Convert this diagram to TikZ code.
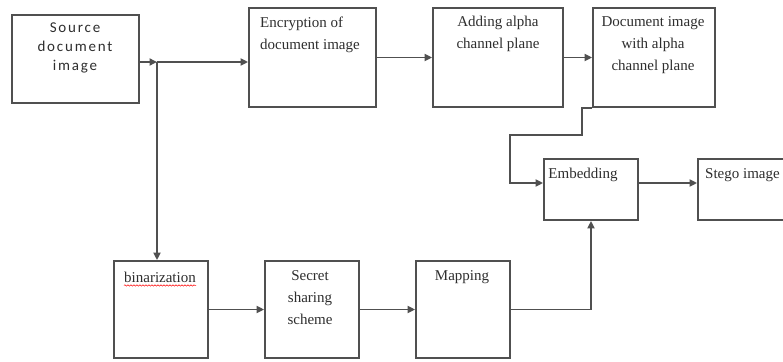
\documentclass[tikz,border=0pt]{standalone}
\usepackage{fontspec}
\setmainfont{Liberation Serif}
\newfontfamily\srcfont[LetterSpace=12]{Carlito}
\usetikzlibrary{arrows.meta,decorations.pathmorphing}
\definecolor{linegray}{HTML}{505050}
\definecolor{txtgray}{HTML}{2E2E2E}
\tikzset{
  box/.style={draw=linegray, line width=1.8pt, rectangle, inner sep=0pt},
  lbl/.style={text=txtgray, inner sep=0pt, font=\fontsize{15}{22}\selectfont},
  arr/.style={draw=linegray, line width=1.8pt, -{Triangle[length=7.5pt,width=7pt]}},
  ln/.style={draw=linegray, line width=1.8pt}
}
\begin{document}
\begin{tikzpicture}[x=1pt,y=-1pt]
\useasboundingbox (0,0) rectangle (783,361);
\fill[white] (0,0) rectangle (783,361);
% boxes
\node[box, minimum width=127, minimum height=88] (src) at (75.5,59) {};
\node[box, minimum width=127, minimum height=99] (enc) at (312.5,57.5) {};
\node[box, minimum width=130, minimum height=99] (add) at (498,57.5) {};
\node[box, minimum width=122, minimum height=99] (doc) at (654,57.5) {};
\node[box, minimum width=94, minimum height=61] (emb) at (591,189.5) {};
\node[box, minimum width=102, minimum height=61] (stego) at (749,189.5) {};
\node[box, minimum width=94, minimum height=97] (bin) at (161,309.5) {};
\node[box, minimum width=94, minimum height=97] (sec) at (312,309.5) {};
\node[box, minimum width=94, minimum height=97] (map) at (463,309.5) {};
% texts
\node[lbl, align=center, font=\srcfont\fontsize{15}{19}\selectfont] (srct) at (75,48) {Source\\document\\image};
\node[lbl, align=left, anchor=west] (enct) at (260,35) {Encryption of\\document image};
\node[lbl, align=center] (addt) at (498,34) {Adding alpha\\channel plane};
\node[lbl, align=center] (doct) at (653,45) {Document image\\with alpha\\channel plane};
\node[lbl] (embt) at (583,175) {Embedding};
\node[lbl, anchor=west] (stegot) at (705,175) {Stego image};
\node[lbl] (bint) at (160,277) {binarization};
\node[lbl, align=center] (sect) at (310,298) {Secret\\sharing\\scheme};
\node[lbl] (mapt) at (462,277) {Mapping};
\draw[red, line width=0.5pt, decorate, decoration={snake, amplitude=0.7pt, segment length=3pt}]
  ([yshift=-3pt]bint.south west) -- ([yshift=-3pt]bint.south east);
% connectors
\coordinate (J) at (157,62);
\draw[arr] (J -| src.east) -- (J);
\draw[arr] (J) -- (J -| enc.west);
\draw[arr] (J) -- (J |- bin.north);
\draw[arr] (enc.east) -- (add.west);
\draw[arr] (add.east) -- (doc.west);
\coordinate (K) at (510,135);
\draw[arr] (doc.south west) -- ++(-10,0) |- (K) |- ([yshift=6.5pt]emb.west);
\draw[arr] ([yshift=6.5pt]emb.east) -- ([yshift=6.5pt]stego.west);
\draw[arr] (bin.east) -- (sec.west);
\draw[arr] (sec.east) -- (map.west);
\draw[arr] (map.east) -| (emb.south);
\end{tikzpicture}
\end{document}
